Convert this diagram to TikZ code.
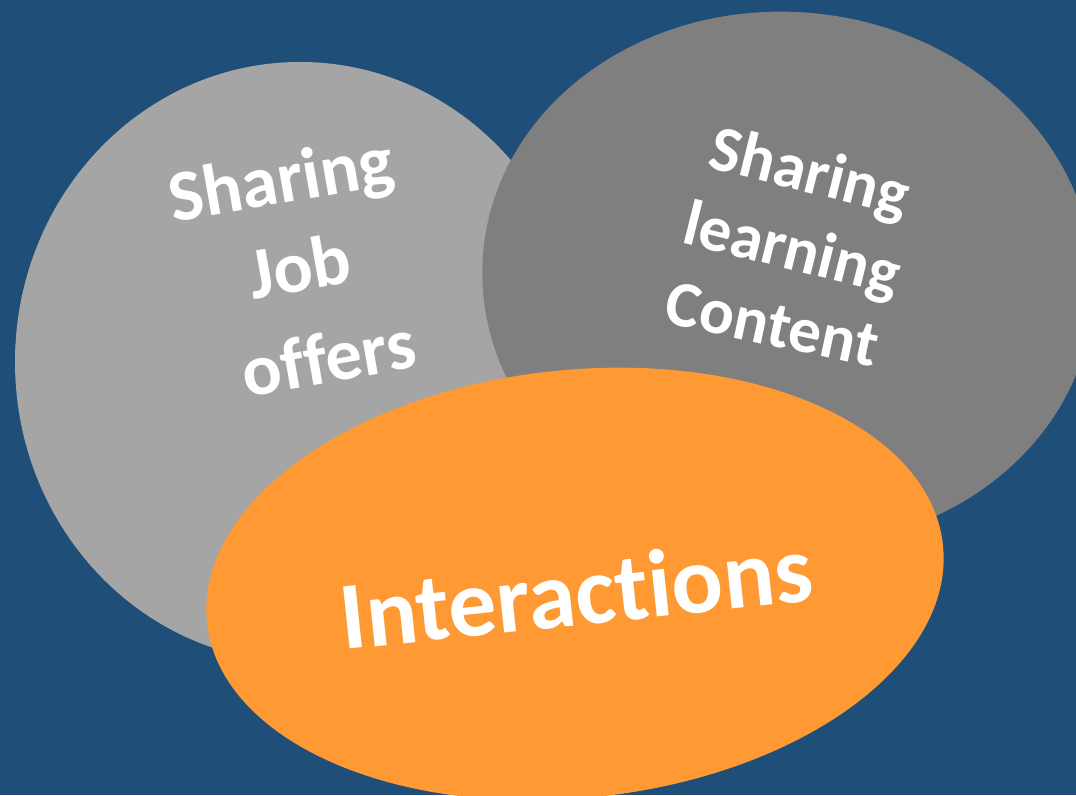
\documentclass[tikz,border=0pt]{standalone}
\usepackage{fontspec}
\setmainfont{Carlito}[Ligatures={NoCommon,NoContextual}]
\usetikzlibrary{shapes.geometric}

\definecolor{bgblue}{HTML}{1F4E79}
\definecolor{jobgray}{HTML}{A5A5A5}
\definecolor{learngray}{HTML}{7F7F7F}
\definecolor{talkorange}{HTML}{FF9933}

\begin{document}
\begin{tikzpicture}[
        x = 1pt, y = 1pt,
        blob/.style = {
            ellipse,
            draw = none,
            inner sep = 0pt,
            outer sep = 0pt,
        },
        word/.style = {
            text = white,
            anchor = base,
            inner sep = 0pt,
        }
    ]
    \fill[bgblue] (0,0) rectangle (1076,795);
    \useasboundingbox (0,0) rectangle (1076,795);

    \node[blob,fill=jobgray,minimum width=570pt,minimum height=600pt]   (jobs)  at (300,433) {};
    \node[blob,fill=learngray,minimum width=612pt,minimum height=534pt,rotate=-5] (learn) at (788,516) {};
    \node[blob,fill=talkorange,minimum width=740pt,minimum height=428pt,rotate=6] (talk) at (575,211) {};

    % left circle
    \node[word,rotate=10,font=\bfseries\fontsize{73}{88}\selectfont] (jobs1) at (285,592) {Sharing};
    \node[word,rotate=10,font=\bfseries\fontsize{73}{88}\selectfont] (jobs2) at (304,504) {Job};
    \node[word,rotate=10,font=\bfseries\fontsize{73}{88}\selectfont] (jobs3) at (333,413) {offers};

    % right circle
    \node[word,rotate=-14,font=\bfseries\fontsize{65}{80}\selectfont] (learn1) at (805,603) {Sharing};
    \node[word,rotate=-14,font=\bfseries\fontsize{65}{80}\selectfont] (learn2) at (787,526) {learning};
    \node[word,rotate=-12,font=\bfseries\fontsize{65}{80}\selectfont] (learn3) at (768,450) {Content};

    \node[word,anchor=center,rotate=6,font=\bfseries\fontsize{96}{115}\selectfont] (talktext) at (576,203) {Interac\kern0pt tions};
\end{tikzpicture}
\end{document}
